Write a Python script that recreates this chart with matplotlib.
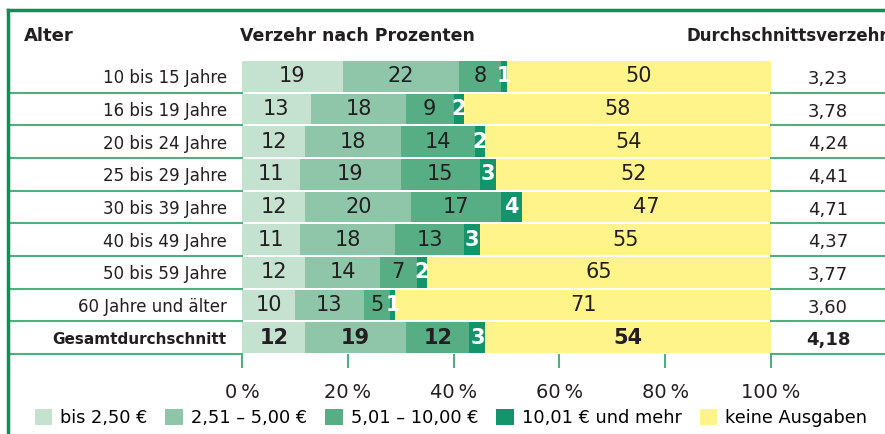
import matplotlib.pyplot as plt
import matplotlib.transforms as mtransforms
from matplotlib.lines import Line2D
from matplotlib.patches import Patch

plt.rcParams['font.family'] = ['DejaVu Sans']

# Daten
gruppen = ['10 bis 15 Jahre', '16 bis 19 Jahre', '20 bis 24 Jahre', '25 bis 29 Jahre',
           '30 bis 39 Jahre', '40 bis 49 Jahre', '50 bis 59 Jahre', '60 Jahre und älter',
           'Gesamtdurchschnitt']
bis_250 = [19, 13, 12, 11, 12, 11, 12, 10, 12]
bis_500 = [22, 18, 18, 19, 20, 18, 14, 13, 19]
bis_1000 = [8, 9, 14, 15, 17, 13, 7, 5, 12]
ueber_1000 = [1, 2, 2, 3, 4, 3, 2, 1, 3]
keine = [50, 58, 54, 52, 47, 55, 65, 71, 54]
durchschnitt = ['3,23', '3,78', '4,24', '4,41', '4,71', '4,37', '3,77', '3,60', '4,18']

serien = [bis_250, bis_500, bis_1000, ueber_1000, keine]
legende = ['bis 2,50 €', '2,51 – 5,00 €', '5,01 – 10,00 €', '10,01 € und mehr', 'keine Ausgaben']
farben = ['#c5e1d0', '#8fc6a9', '#57ae85', '#12956a', '#fff48a']
textfarben = ['#231f20', '#231f20', '#231f20', 'white', '#231f20']
gruen = '#0e8f55'
linie = '#4db07f'

W, H = 885, 434
fig = plt.figure(figsize=(W / 100, H / 100), dpi=100)
ax = fig.add_axes([242 / W, 80 / H, 529 / W, 294 / H])

n = len(gruppen)
y = list(range(n))
links = [0] * n
for k, werte in enumerate(serien):
    ax.barh(y, werte, left=links, height=0.93, color=farben[k], linewidth=0)
    for i, v in enumerate(werte):
        gesamt = i == n - 1
        fett = gesamt or k == 3
        ax.text(links[i] + v / 2, i, str(v), ha='center', va='center',
                fontsize=15, color=textfarben[k],
                fontweight='bold' if fett else 'normal')
    links = [a + b for a, b in zip(links, werte)]

ax.set_xlim(0, 100)
ax.set_ylim(n - 0.5, -0.5)
for s in ax.spines.values():
    s.set_visible(False)

ax.set_xticks([0, 20, 40, 60, 80, 100])
ax.set_xticklabels(['0\u2009%', '20\u2009%', '40\u2009%', '60\u2009%', '80\u2009%', '100\u2009%'])
ax.tick_params(axis='x', length=10, width=1.5, color=linie, pad=11, labelsize=14,
               labelcolor='#231f20')
ax.set_yticks(y)
ax.set_yticklabels(gruppen)
ax.tick_params(axis='y', length=0, pad=11, labelsize=12, labelcolor='#231f20')
ax.get_yticklabels()[-1].set_fontweight('bold')
ax.get_yticklabels()[-1].set_fontsize(11)

# Trennlinien links und rechts
for i in range(n):
    ax.axhline(i + 0.5, xmin=(8 - 242) / 529, xmax=0, color=linie, lw=1.5, clip_on=False)
    ax.axhline(i + 0.5, xmin=1, xmax=(W - 242) / 529, color=linie, lw=1.5, clip_on=False)

# Durchschnittsverzehr
trans = mtransforms.blended_transform_factory(ax.transAxes, ax.transData)
for i, wert in enumerate(durchschnitt):
    ax.text((828 - 242) / 529, i + 0.08, wert, transform=trans, ha='center', va='center',
            fontsize=13, color='#231f20',
            fontweight='bold' if i == n - 1 else 'normal')

# Kopfzeile
fig.text(24 / W, 1 - 36 / H, 'Alter', fontsize=13, fontweight='bold', va='center', color='#231f20')
fig.text(240 / W, 1 - 36 / H, 'Verzehr nach Prozenten', fontsize=12.5, fontweight='bold',
         va='center', color='#231f20')
fig.text(686 / W, 1 - 36 / H, 'Durchschnittsverzehr', fontsize=12, fontweight='bold',
         va='center', color='#231f20')

# Rahmen
fig.add_artist(Line2D([8 / W, 8 / W], [0, 1 - 10 / H], transform=fig.transFigure, color=gruen, lw=2.5))
fig.add_artist(Line2D([8 / W, 1], [1 - 10 / H, 1 - 10 / H], transform=fig.transFigure, color=gruen, lw=2.5))

# Legende
handles = [Patch(facecolor=f, edgecolor='none') for f in farben]
fig.legend(handles, legende, loc='center', bbox_to_anchor=(451 / W, 1 - 418 / H), ncol=5,
           frameon=False, fontsize=12.8, handlelength=1.0, handleheight=1.0,
           handletextpad=0.45, columnspacing=1.0, borderpad=0)

plt.savefig('out.png', dpi=100)
